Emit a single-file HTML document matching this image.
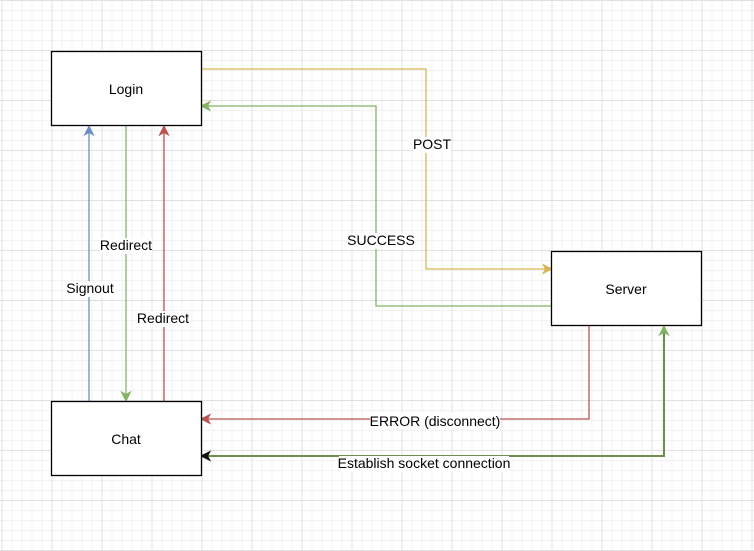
<!DOCTYPE html>
<html><head><style>
html,body{margin:0;padding:0;background:#fff}
svg{display:block}
text{font-family:"Liberation Sans",Arial,sans-serif;font-size:14px;fill:#000}
</style></head><body>
<svg width="754" height="551" viewBox="0 0 754 551" xmlns="http://www.w3.org/2000/svg">
<defs>
<pattern id="g1" width="10" height="10" patternUnits="userSpaceOnUse" x="1.5" y="0">
<path d="M0 0.5H10M0.5 0V10" stroke="#f2f2f2" stroke-width="1" fill="none"/>
</pattern>
<pattern id="g2" width="50" height="50" patternUnits="userSpaceOnUse" x="1.5" y="0">
<path d="M0 0.5H50M0.5 0V50" stroke="#e0e0e0" stroke-width="1" fill="none"/>
</pattern>
</defs>
<rect width="754" height="551" fill="url(#g1)"/>
<rect width="754" height="551" fill="url(#g2)"/>

<g fill="none" stroke-width="1.3">
<path d="M201 69H426V269H545" stroke="#d6b656"/>
<path d="M551 306H376V106H207" stroke="#82b366"/>
<path d="M89 401V132" stroke="#6c8ebf"/>
<path d="M126 126V395" stroke="#82b366"/>
<path d="M164 401V132" stroke="#b85450"/>
<path d="M589 326V419H207" stroke="#b85450"/>
<path d="M201 456H664V332" stroke="#6d8f4e" stroke-width="2"/>
</g>
<g stroke-width="1">
<path d="M552 269L543 264.5L545.5 269L543 273.5Z" fill="#d6b656" stroke="#d6b656"/>
<path d="M201 106L210 101.5L207.5 106L210 110.5Z" fill="#82b366" stroke="#82b366"/>
<path d="M89 126L84.5 135L89 132.5L93.5 135Z" fill="#6c8ebf" stroke="#6c8ebf"/>
<path d="M126 401L121.5 392L126 394.5L130.5 392Z" fill="#82b366" stroke="#82b366"/>
<path d="M164 126L159.5 135L164 132.5L168.5 135Z" fill="#b85450" stroke="#b85450"/>
<path d="M201 419L210 414.5L207.5 419L210 423.5Z" fill="#b85450" stroke="#b85450"/>
<path d="M201 456L210 451.5L207.5 456L210 460.5Z" fill="#111" stroke="#111"/>
<path d="M664 326L659.5 335L664 332.5L668.5 335Z" fill="#82b366" stroke="#82b366"/>
</g>

<g fill="#fff" stroke="#000" stroke-width="1.3">
<rect x="51.5" y="51.5" width="150" height="74"/>
<rect x="51.5" y="401.5" width="150" height="74"/>
<rect x="551.5" y="251.5" width="150" height="74"/>
</g>
<text x="126" y="94" text-anchor="middle" font-size="15">Login</text>
<text x="126" y="444" text-anchor="middle" font-size="15">Chat</text>
<text x="626" y="294" text-anchor="middle" font-size="15">Server</text>

<g fill="#fff">
<rect x="413" y="137" width="38" height="16"/>
<rect x="348" y="233" width="67" height="16"/>
<rect x="100" y="238" width="52" height="16"/>
<rect x="66" y="281" width="48" height="16"/>
<rect x="137" y="311" width="52" height="16"/>
<rect x="370" y="413" width="130" height="16"/>
<rect x="339" y="456" width="170" height="16"/>
</g>
<text x="432" y="149" text-anchor="middle">POST</text>
<text x="381" y="245" text-anchor="middle">SUCCESS</text>
<text x="126" y="250" text-anchor="middle">Redirect</text>
<text x="90" y="293" text-anchor="middle">Signout</text>
<text x="163" y="323" text-anchor="middle">Redirect</text>
<text x="435" y="426" text-anchor="middle">ERROR (disconnect)</text>
<text x="424" y="468" text-anchor="middle">Establish socket connection</text>
</svg>
</body></html>
